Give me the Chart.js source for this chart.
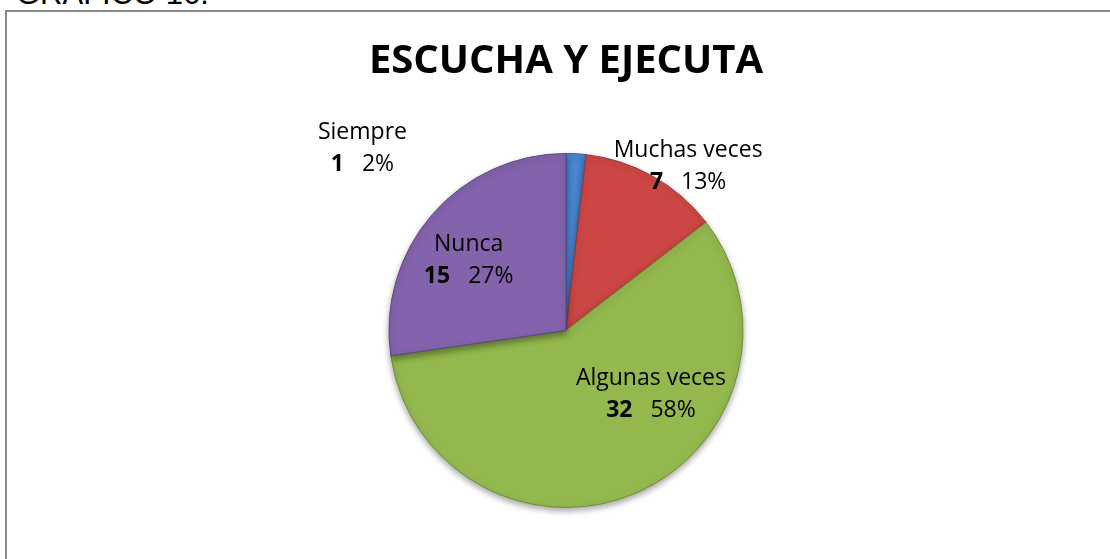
<!DOCTYPE html>
<html>
<head>
<meta charset="utf-8">
<script src="https://cdn.jsdelivr.net/npm/chart.js@4"></script>
<style>
  html, body { margin: 0; padding: 0; background: #fff; overflow: hidden; }
  #page { position: relative; width: 1110px; height: 559px; }
  #encabezado {
    position: absolute; left: 16px; top: -24px;
    font: 31px "Liberation Sans", Arial, sans-serif; color: #000; white-space: nowrap;
  }
  #marco {
    position: absolute; left: 5px; top: 10px; width: 1110px; height: 560px;
    border-left: 2px solid #888; border-top: 2px solid #888;
  }
  #grafico { position: absolute; left: 0; top: 0; }
</style>
</head>
<body>
<div id="page">
  <div id="encabezado">GRAFICO 16.</div>
  <div id="marco"></div>
  <canvas id="grafico" width="1110" height="559"></canvas>
</div>
<script>
const categorias = ['Siempre', 'Muchas veces', 'Algunas veces', 'Nunca']
const respuestas = [1, 7, 32, 15]
const colores    = ['#4A86D2', '#CC4744', '#93B84E', '#8363AC']
const bordes     = ['#2F64A8', '#9E3532', '#6E8E34', '#5E4585']

// donde va cada etiqueta, en fracciones del radio respecto al centro
const posEtiquetas = [[-1.15, -1.08], [0.69, -0.98], [0.48, 0.31], [-0.55, -0.45]]

const total = respuestas.reduce((a, b) => a + b, 0)

const sombra = {
    id: 'sombra',
    beforeDatasetsDraw(chart) {
        const ctx = chart.ctx
        ctx.save()
        ctx.shadowColor = 'rgba(0,0,0,0.35)'
        ctx.shadowBlur = 6
        ctx.shadowOffsetY = 3
    },
    afterDatasetsDraw(chart) {
        chart.ctx.restore()
    }
}

const etiquetas = {
    id: 'etiquetas',
    afterDraw(chart) {
        const ctx = chart.ctx
        const arcos = chart.getDatasetMeta(0).data
        ctx.save()
        ctx.fillStyle = '#000'
        ctx.textBaseline = 'alphabetic'
        arcos.forEach((arco, i) => {
            const r = arco.outerRadius
            const x = arco.x + posEtiquetas[i][0] * r
            const y = arco.y + posEtiquetas[i][1] * r

            ctx.font = '23px "Open Sans"'
            ctx.textAlign = 'center'
            ctx.fillText(categorias[i], x, y)

            const num = String(respuestas[i])
            const pct = Math.round(respuestas[i] / total * 100) + '%'
            ctx.font = 'bold 23px "Open Sans"'
            const wNum = ctx.measureText(num).width
            ctx.font = '23px "Open Sans"'
            const wPct = ctx.measureText(pct).width
            const hueco = 18
            const inicio = x - (wNum + hueco + wPct) / 2
            ctx.textAlign = 'left'
            ctx.font = 'bold 23px "Open Sans"'
            ctx.fillText(num, inicio, y + 32)
            ctx.font = '23px "Open Sans"'
            ctx.fillText(pct, inicio + wNum + hueco, y + 32)
        })
        ctx.restore()
    }
}

new Chart(document.getElementById('grafico'), {
    type: 'pie',
    data: {
        labels: categorias,
        datasets: [{
            data: respuestas,
            backgroundColor: colores,
            borderColor: bordes,
            borderWidth: 1
        }]
    },
    options: {
        responsive: false,
        animation: false,
        layout: { padding: { top: 0, bottom: 51, left: 22, right: 0 } },
        plugins: {
            legend: { display: false },
            tooltip: { enabled: false },
            title: {
                display: true,
                text: 'ESCUCHA Y EJECUTA',
                color: '#000',
                font: { family: 'Open Sans', size: 40, weight: 'bold', lineHeight: 1.2 },
                padding: { top: 38, bottom: 67 }
            }
        }
    },
    plugins: [sombra, etiquetas]
})
</script>
</body>
</html>
